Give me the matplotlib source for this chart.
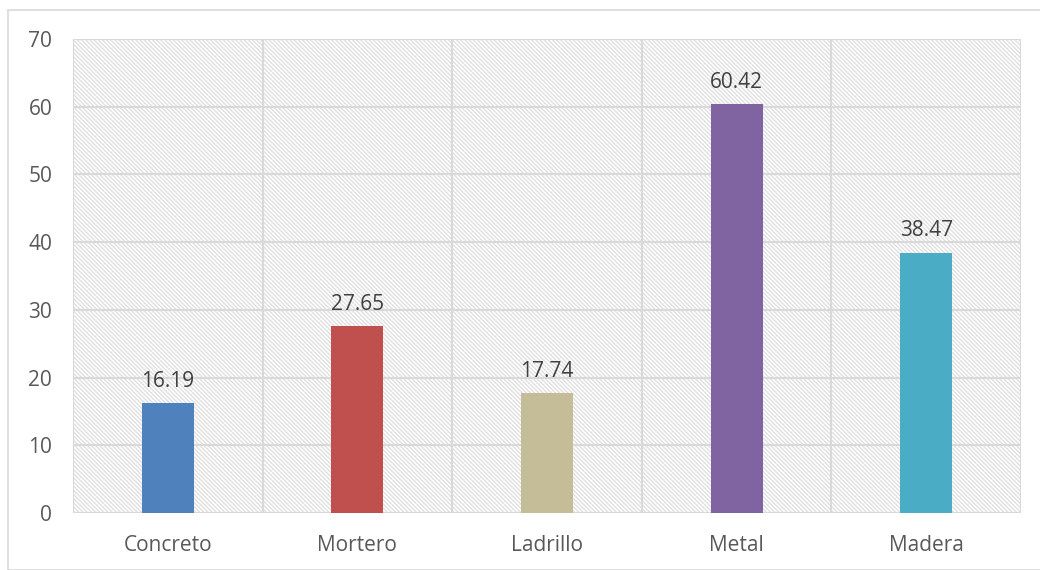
import matplotlib
matplotlib.use("Agg")
import matplotlib.pyplot as plt
from matplotlib.patches import Rectangle

categories = ["Concreto", "Mortero", "Ladrillo", "Metal", "Madera"]
values = [16.19, 27.65, 17.74, 60.42, 38.47]
colors = ["#4F81BD", "#C0504D", "#C4BD97", "#8064A2", "#4BACC6"]
yticks = [0, 10, 20, 30, 40, 50, 60, 70]

plt.rcParams['font.family'] = ['Open Sans', 'DejaVu Sans']
plt.rcParams['hatch.color'] = '#E0E0E0'
plt.rcParams['hatch.linewidth'] = 1.0

W, H = 1040, 570
fig = plt.figure(figsize=(W/100, H/100), dpi=100)
fig.patches.append(Rectangle((8/W, 0), 1.2, 1 - 10/H, transform=fig.transFigure,
                             fill=False, edgecolor='#D9D9D9', linewidth=1.2))

ax = fig.add_axes([73/W, 1 - 513/H, (1021-73)/W, (513-39)/H])
ax.set_xlim(-0.5, len(categories) - 0.5)
ax.set_ylim(0, 70)

# hatched background
ax.add_patch(Rectangle((0, 0), 1, 1, transform=ax.transAxes, facecolor='white',
                       edgecolor='#E0E0E0', hatch='\\' * 8, linewidth=0, zorder=0))

# grid
for y in yticks:
    ax.axhline(y, color='#D9D9D9', linewidth=1.5, zorder=1)
for i in range(len(categories) + 1):
    ax.axvline(i - 0.5, color='#D9D9D9', linewidth=1.5, zorder=1)

x = list(range(len(categories)))
bars = ax.bar(x, values, width=0.275, color=colors, zorder=3)
for xi, v in zip(x, values):
    ax.annotate(f"{v:.2f}", (xi, v), xytext=(0, 8), textcoords='offset points',
                ha='center', va='bottom', fontsize=15, color='#404040', zorder=4)

for s in ax.spines.values():
    s.set_visible(False)

ax.set_yticks(yticks)
ax.set_yticklabels([str(t) for t in yticks])
ax.set_xticks(x)
ax.set_xticklabels(categories)
ax.tick_params(axis='both', length=0, labelsize=15, labelcolor='#595959')
ax.tick_params(axis='y', pad=15)
ax.tick_params(axis='x', pad=16)

fig.savefig("out.png", dpi=100)
